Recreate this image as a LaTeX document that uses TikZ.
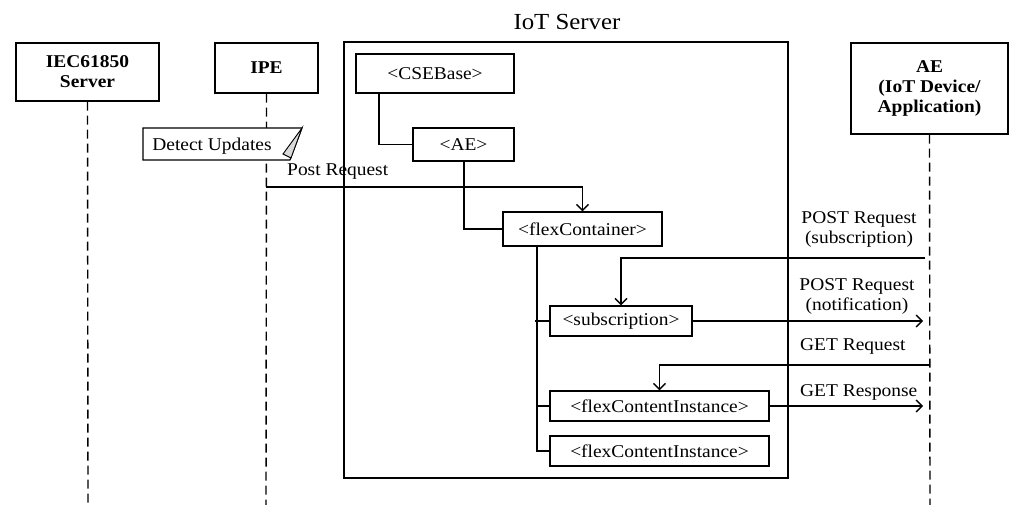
\documentclass[tikz,border=0pt]{standalone}
\usepackage{fontspec}
\setmainfont{Liberation Serif}[FakeStretch=1.08]
\usetikzlibrary{arrows.meta}
\begin{document}
\begin{tikzpicture}[x=1pt,y=-1pt,
  every node/.style={font=\fontsize{18}{20}\selectfont},
  box/.style={draw,line width=1.4pt,fill=white,inner sep=0pt,align=center},
  bbox/.style={box,font=\fontsize{18}{20}\selectfont\bfseries},
  life/.style={line width=1.4pt,dash pattern=on 9pt off 5pt},
  conn/.style={line width=1.4pt},
  msg/.style={line width=1.4pt,-{Straight Barb[length=6pt,width=12pt,line width=1.4pt]}},
  lbl/.style={inner sep=0pt,align=center}
]
\useasboundingbox (0,0) rectangle (1009,505);
% lifeline heads
\node[bbox,minimum width=143pt,minimum height=58pt] (iec) at (87.5,72) {IEC61850\\Server};
\node[bbox,minimum width=103pt,minimum height=50pt] (ipe) at (266.5,68) {IPE};
\node[bbox,minimum width=157pt,minimum height=91pt] (aed) at (929.5,88.5) {AE\\(IoT Device/\\Application)};
\coordinate (iecEnd) at (88,505);
\coordinate (ipeEnd) at (266,505);
\coordinate (aedEnd) at (930,505);
\draw[life] (iec.south) -- (iecEnd);
\draw[life] (ipe.south) -- (ipeEnd);
\draw[life] (aed.south) -- (aedEnd);
% IoT server frame
\node[draw,line width=1.4pt,minimum width=444pt,minimum height=436pt,inner sep=0pt] (frame) at (566,260) {};
\node[lbl,font=\fontsize{23}{25}\selectfont] (title) at (567,22) {IoT Server};
% note
\draw[line width=1.1pt,fill=white] (143,128) -- (302,128) -- (290,160) -- (143,160) -- cycle;
\draw[line width=0.9pt,fill=gray!30] (302,128) -- (283,154) -- (291,158) -- cycle;
\node[lbl] (note) at (212,146) {Detect Updates};
% resource tree
\node[box,minimum width=158pt,minimum height=39pt] (cse) at (435,73.5) {<CSEBase>};
\node[box,minimum width=101pt,minimum height=33pt] (aer) at (463.5,144.5) {<AE>};
\node[box,minimum width=159pt,minimum height=34pt] (flex) at (582.5,229) {<flexContainer>};
\node[box,minimum width=142pt,minimum height=30pt] (sub) at (621,321) {<subscription>};
\node[box,minimum width=219pt,minimum height=30pt] (fci1) at (659.5,406) {<flexContentInstance>};
\node[box,minimum width=219pt,minimum height=30pt] (fci2) at (659.5,451) {<flexContentInstance>};
\draw[conn] (cse.south -| 379,0) |- (aer.west);
\draw[conn] (aer.south -| 464,0) |- (flex.west);
\coordinate (trunkTop) at (537,246);
\draw[conn] (trunkTop) |- (fci2.west);
\draw[conn] (535,321) -- (sub.west);
\draw[conn] (537,406) -- (fci1.west);
% messages
\coordinate (p1) at (266,187);
\draw[msg] (p1) -| (flex.north);
\node[lbl,anchor=west] (l1) at (287,172) {Post Request};
\coordinate (p2) at (925,258);
\draw[msg] (p2) -| (sub.north);
\node[lbl] (l2) at (859,229) {POST Request\\(subscription)};
\coordinate (p3) at (923,321);
\draw[msg] (sub.east) -- (p3);
\node[lbl] (l3) at (857,296) {POST Request\\(notification)};
\coordinate (p4) at (930,365);
\draw[msg] (p4) -| (fci1.north);
\node[lbl,anchor=west] (l4) at (800,346) {GET Request};
\coordinate (p5) at (923,406);
\draw[msg] (fci1.east) -- (p5);
\node[lbl,anchor=west] (l5) at (800,392) {GET Response};
\end{tikzpicture}
\end{document}
